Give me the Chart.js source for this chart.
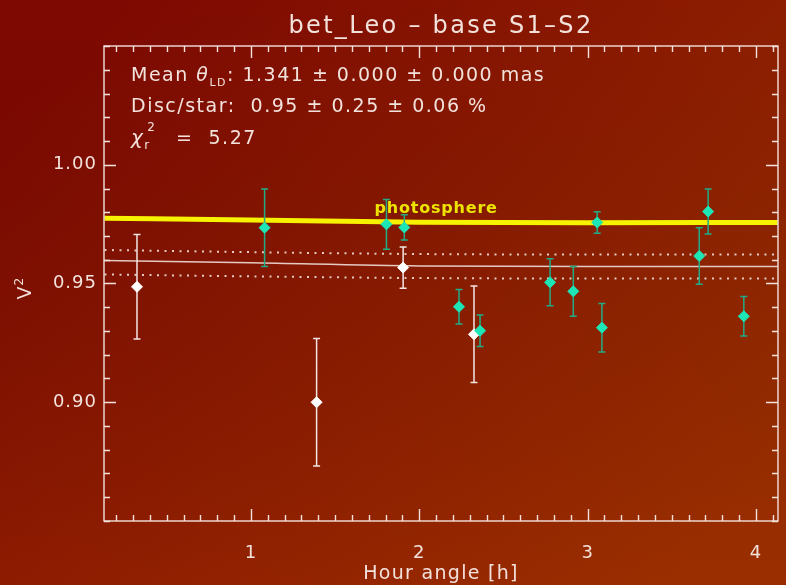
<!DOCTYPE html>
<html>
<head>
<meta charset="utf-8">
<title>bet_Leo - base S1-S2</title>
<script src="https://cdn.jsdelivr.net/npm/chart.js@4.4.1/dist/chart.umd.min.js"></script>
<style>
  html, body { margin: 0; padding: 0; background: #8a1a02; overflow: hidden; }
  canvas { display: block; }
</style>
</head>
<body>
<canvas id="c" width="786" height="585"></canvas>
<script>
// ---- Calibrated V^2 measurements, baseline S1-S2 ----
// Calibrators / reference points (white)
const whiteHour = [0.323, 1.390, 1.904, 2.325];
const whiteV2   = [0.9486, 0.9000, 0.9567, 0.9286];
const whiteErr  = [0.0220, 0.0268, 0.0087, 0.0203];

// Science target points (cyan)
const cyanHour = [1.081, 1.805, 1.911, 2.236, 2.361, 2.777, 2.915, 3.057, 3.085, 3.663, 3.716, 3.928];
const cyanV2   = [0.9735, 0.9749, 0.9736, 0.9402, 0.9301, 0.9505, 0.9467, 0.9757, 0.9314, 0.9616, 0.9803, 0.9362];
const cyanErr  = [0.0163, 0.0105, 0.0053, 0.0073, 0.0066, 0.0099, 0.0105, 0.0045, 0.0102, 0.0119, 0.0095, 0.0083];

// Model curves along the hour-angle track
const modelHour = [0.13, 1.0, 2.0, 3.0, 4.13];
const photoV2   = [0.9775, 0.9767, 0.9758, 0.9756, 0.9757];
const fitV2     = [0.9597, 0.9587, 0.9574, 0.9572, 0.9572];
const fitHiV2   = [0.9641, 0.9632, 0.9624, 0.9622, 0.9622];
const fitLoV2   = [0.9538, 0.9530, 0.9523, 0.9521, 0.9521];

// Axis ticks
const xMajorTicks = [1, 2, 3, 4];
const xTickLabels = ['1', '2', '3', '4'];
const yMajorTicks = [0.90, 0.95, 1.00];
const yTickLabels = ['0.90', '0.95', '1.00'];
const xMinorStep = 0.1;
const yMinorStep = 0.01;

const titleText = 'bet_Leo \u2013 base S1\u2013S2';
const xTitle = 'Hour angle [h]';

const FONT = '"DejaVu Sans", sans-serif';
const INK = '#f3e2dc';
const CYAN = '#1de6b6';
const CYAN_BAR = '#22ac86';
const YELLOW = '#f6f200';

const pts = (xs, ys) => xs.map((x, i) => ({ x, y: ys[i] }));

function drawRuns(ctx, x, y, parts) {
  for (const p of parts) {
    ctx.font = (p.style || '') + ' ' + p.size + 'px ' + FONT;
    ctx.fillText(p.t, x, y + (p.dy || 0));
    x += ctx.measureText(p.t).width + (p.gap || 0);
  }
  return x;
}

const decor = {
  id: 'decor',
  beforeDraw(chart) {
    const ctx = chart.ctx, W = chart.width, H = chart.height;
    ctx.save();
    const g = ctx.createLinearGradient(120, 0, 660, H);
    g.addColorStop(0, '#7e0902');
    g.addColorStop(0.45, '#8a1901');
    g.addColorStop(1, '#992f00');
    ctx.fillStyle = g;
    ctx.fillRect(0, 0, W, H);
    const g2 = ctx.createLinearGradient(0, 0, 0, H);
    g2.addColorStop(0, 'rgba(0,0,0,0)');
    g2.addColorStop(1, 'rgba(160,40,0,0.18)');
    ctx.fillStyle = g2;
    ctx.fillRect(0, 0, W, H);
    ctx.restore();
  },
  beforeDatasetDraw(chart, args) {
    if (args.index !== 1) return;
    const ctx = chart.ctx, xs = chart.scales.x, ys = chart.scales.y;
    ctx.save();
    // label of the photosphere curve
    ctx.fillStyle = '#ece400';
    ctx.font = 'bold 16px ' + FONT;
    ctx.letterSpacing = '0.8px';
    ctx.textAlign = 'center';
    ctx.textBaseline = 'alphabetic';
    ctx.fillText('photosphere', xs.getPixelForValue(2.1), ys.getPixelForValue(photoV2[2]) - 9);
    // error bars
    const bars = (hs, vs, es, color) => {
      ctx.strokeStyle = color;
      ctx.lineWidth = 1.5;
      hs.forEach((h, i) => {
        const x = xs.getPixelForValue(h);
        const y1 = ys.getPixelForValue(vs[i] + es[i]);
        const y2 = ys.getPixelForValue(vs[i] - es[i]);
        ctx.beginPath();
        ctx.moveTo(x, y1); ctx.lineTo(x, y2);
        ctx.moveTo(x - 3.5, y1); ctx.lineTo(x + 3.5, y1);
        ctx.moveTo(x - 3.5, y2); ctx.lineTo(x + 3.5, y2);
        ctx.stroke();
      });
    };
    bars(whiteHour, whiteV2, whiteErr, '#f4e6e4');
    bars(cyanHour, cyanV2, cyanErr, CYAN_BAR);
    ctx.restore();
  },
  afterDraw(chart) {
    const ctx = chart.ctx, a = chart.chartArea, xs = chart.scales.x, ys = chart.scales.y;
    ctx.save();
    ctx.strokeStyle = INK;
    ctx.fillStyle = INK;
    ctx.lineWidth = 1.4;
    ctx.strokeRect(a.left, a.top, a.right - a.left, a.bottom - a.top);

    const MAJ = 12, MIN = 6;
    ctx.beginPath();
    // x ticks (bottom and top, inward)
    const x0 = Math.ceil(xs.min / xMinorStep - 1e-6);
    const x1 = Math.floor(xs.max / xMinorStep + 1e-6);
    for (let k = x0; k <= x1; k++) {
      const v = k * xMinorStep;
      const major = xMajorTicks.some(t => Math.abs(t - v) < 1e-6);
      const len = major ? MAJ : MIN;
      const px = Math.round(xs.getPixelForValue(v)) + 0.5;
      ctx.moveTo(px, a.bottom); ctx.lineTo(px, a.bottom - len);
      ctx.moveTo(px, a.top); ctx.lineTo(px, a.top + len);
    }
    // y ticks (left and right, inward)
    const y0 = Math.ceil(ys.min / yMinorStep - 1e-6);
    const y1 = Math.floor(ys.max / yMinorStep + 1e-6);
    for (let k = y0; k <= y1; k++) {
      const v = k * yMinorStep;
      const major = yMajorTicks.some(t => Math.abs(t - v) < 1e-6);
      const len = major ? MAJ : MIN;
      const py = Math.round(ys.getPixelForValue(v)) + 0.5;
      ctx.moveTo(a.left, py); ctx.lineTo(a.left + len, py);
      ctx.moveTo(a.right, py); ctx.lineTo(a.right - len, py);
    }
    ctx.stroke();

    // tick labels
    ctx.font = '18px ' + FONT;
    ctx.letterSpacing = '1px';
    ctx.textAlign = 'center';
    ctx.textBaseline = 'alphabetic';
    xMajorTicks.forEach((t, i) => ctx.fillText(xTickLabels[i], xs.getPixelForValue(t), 558));
    ctx.textAlign = 'right';
    ctx.textBaseline = 'middle';
    yMajorTicks.forEach((t, i) => ctx.fillText(yTickLabels[i], a.left - 7, ys.getPixelForValue(t)));

    // axis titles
    ctx.textAlign = 'center';
    ctx.textBaseline = 'alphabetic';
    ctx.font = '19px ' + FONT;
    ctx.letterSpacing = '1.3px';
    ctx.fillText(xTitle, (a.left + a.right) / 2, 579);
    ctx.save();
    ctx.letterSpacing = '0px';
    ctx.translate(31, 290);
    ctx.rotate(-Math.PI / 2);
    ctx.textAlign = 'left';
    ctx.font = '19px ' + FONT;
    const vw = ctx.measureText('V').width;
    ctx.fillText('V', -vw / 2 - 3, 0);
    ctx.font = '12px ' + FONT;
    ctx.fillText('2', vw / 2 - 2, -8);
    ctx.restore();

    // title
    ctx.font = '24px ' + FONT;
    ctx.letterSpacing = '2.3px';
    ctx.fillText(titleText, (a.left + a.right) / 2, 33);

    // fit summary
    ctx.textAlign = 'left';
    ctx.letterSpacing = '1.5px';
    drawRuns(ctx, 131, 81, [
      { t: 'Mean ', size: 19 },
      { t: '\u03b8', size: 19, style: 'italic' },
      { t: 'LD', size: 11, dy: 5 },
      { t: ': 1.341 \u00b1 0.000 \u00b1 0.000 mas', size: 19 }
    ]);
    drawRuns(ctx, 131, 112, [
      { t: 'Disc/star:  0.95 \u00b1 0.25 \u00b1 0.06 %', size: 19 }
    ]);
    const cx = drawRuns(ctx, 131, 144, [{ t: '\u03c7', size: 20, style: 'italic' }]);
    ctx.font = '12px ' + FONT;
    ctx.fillText('r', cx, 149);
    ctx.fillText('2', cx + 3, 131);
    drawRuns(ctx, 176, 144, [{ t: '=  5.27', size: 19 }]);
    ctx.restore();
  }
};

new Chart(document.getElementById('c'), {
  type: 'scatter',
  data: {
    datasets: [
      { data: pts(cyanHour, cyanV2), pointStyle: 'rectRot', pointRadius: 5.5,
        backgroundColor: CYAN, borderColor: CYAN, borderWidth: 1 },
      { data: pts(whiteHour, whiteV2), pointStyle: 'rectRot', pointRadius: 5.5,
        backgroundColor: '#ffffff', borderColor: '#ffffff', borderWidth: 1 },
      { data: pts(modelHour, photoV2), showLine: true, pointRadius: 0,
        borderColor: YELLOW, borderWidth: 5, cubicInterpolationMode: 'monotone' },
      { data: pts(modelHour, fitV2), showLine: true, pointRadius: 0,
        borderColor: 'rgba(240,222,216,0.9)', borderWidth: 1.5, cubicInterpolationMode: 'monotone' },
      { data: pts(modelHour, fitHiV2), showLine: true, pointRadius: 0,
        borderColor: 'rgba(240,222,216,0.9)', borderWidth: 2, borderDash: [2, 5.5],
        cubicInterpolationMode: 'monotone' },
      { data: pts(modelHour, fitLoV2), showLine: true, pointRadius: 0,
        borderColor: 'rgba(240,222,216,0.9)', borderWidth: 2, borderDash: [2, 5.5],
        cubicInterpolationMode: 'monotone' }
    ]
  },
  options: {
    responsive: false,
    devicePixelRatio: 1,
    animation: false,
    layout: { padding: { left: 104, right: 8, top: 46, bottom: 64 } },
    scales: {
      x: { type: 'linear', min: 0.127, max: 4.131, display: false },
      y: { type: 'linear', min: 0.85, max: 1.05, display: false }
    },
    plugins: { legend: { display: false }, tooltip: { enabled: false } }
  },
  plugins: [decor]
});
</script>
</body>
</html>
